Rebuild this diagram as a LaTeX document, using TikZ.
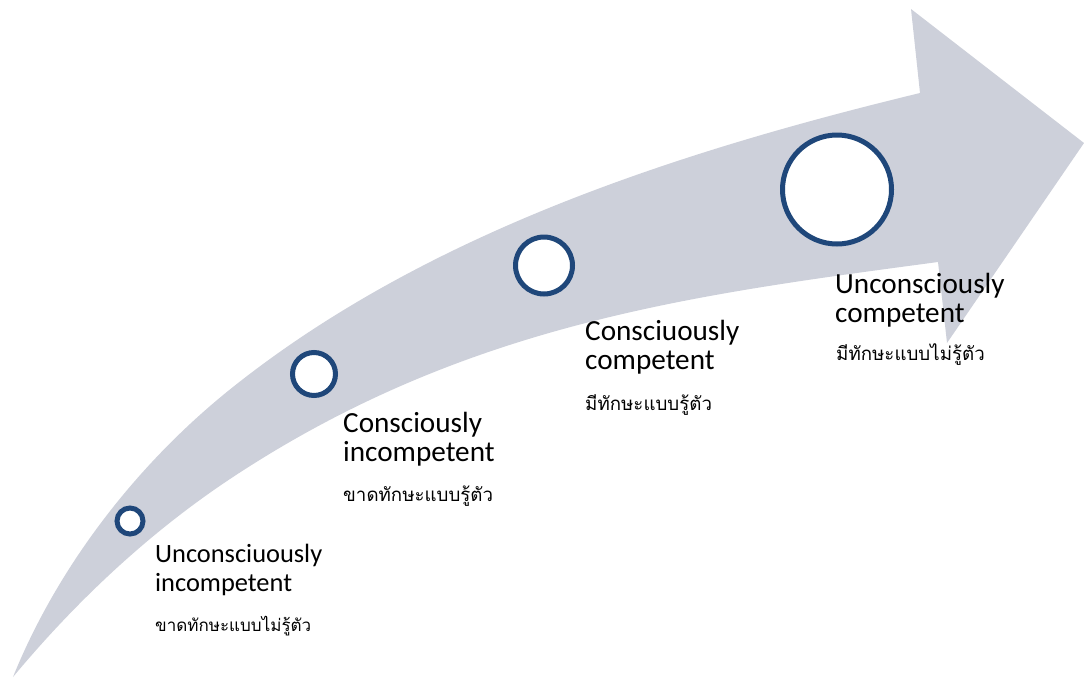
\documentclass[tikz,border=0pt]{standalone}
\usepackage{fontspec}
\setmainfont{Carlito}
\newfontfamily\thaifont[Script=Thai]{Loma}
\definecolor{band}{RGB}{205,208,218}
\definecolor{ring}{RGB}{31,71,122}
\begin{document}
\begin{tikzpicture}[x=1pt,y=-1pt,
  stage/.style={circle, draw=ring, line width=5pt, fill=white, inner sep=0pt},
  titlesmall/.style={anchor=base west, inner sep=0pt, font=\fontsize{26.4}{29}\selectfont},
  title/.style={anchor=base west, inner sep=0pt, font=\fontsize{29.2}{32}\selectfont},
  thai/.style={anchor=base west, inner sep=0pt, font=\thaifont\fontsize{18.7}{22}\selectfont},
  thaismall/.style={anchor=base west, inner sep=0pt, font=\thaifont\fontsize{17}{20}\selectfont}]
\useasboundingbox (0,0) rectangle (1084,678);
% curved arrow
\coordinate (tail) at (13,677);
\coordinate (up) at (920,93);
\coordinate (top) at (911,9);
\coordinate (tip) at (1084,143);
\coordinate (bot) at (947,343);
\coordinate (low) at (938,262);
\fill[band] (tail)
  .. controls (58.4,564.8) and (138.6,462) .. (233,387)
  .. controls (427,232.6) and (678.5,151.5) .. (up)
  -- (top) -- (tip) -- (bot) -- (low)
  .. controls (694.2,294.7) and (466.8,323) .. (233,477)
  .. controls (150.3,531.5) and (76.4,600.8) .. (tail) -- cycle;
% stages
\node[stage, minimum size=26pt] (c1) at (130,521) {};
\node[stage, minimum size=43pt] (c2) at (314,374) {};
\node[stage, minimum size=57pt] (c3) at (544,265.5) {};
\node[stage, minimum size=109pt] (c4) at (837,189.5) {};
% labels
\node[titlesmall] (t1a) at (155,562.7) {Unconsciuously};
\node[titlesmall] (t1b) at (155,591) {incompetent};
\node[thaismall] (t1c) at (155,631.5) {ขาดทักษะแบบไม่รู้ตัว};
\node[title] (t2a) at (343,432.7) {Consciously};
\node[title] (t2b) at (343,461.7) {incompetent};
\node[thai]  (t2c) at (343,501.7) {ขาดทักษะแบบรู้ตัว};
\node[title] (t3a) at (585,340.7) {Consciuously};
\node[title] (t3b) at (585,369.5) {competent};
\node[thai]  (t3c) at (585,410) {มีทักษะแบบรู้ตัว};
\node[title] (t4a) at (835,293.3) {Unconsciously};
\node[title] (t4b) at (835,322) {competent};
\node[thai]  (t4c) at (836,360) {มีทักษะแบบไม่รู้ตัว};
\end{tikzpicture}
\end{document}
